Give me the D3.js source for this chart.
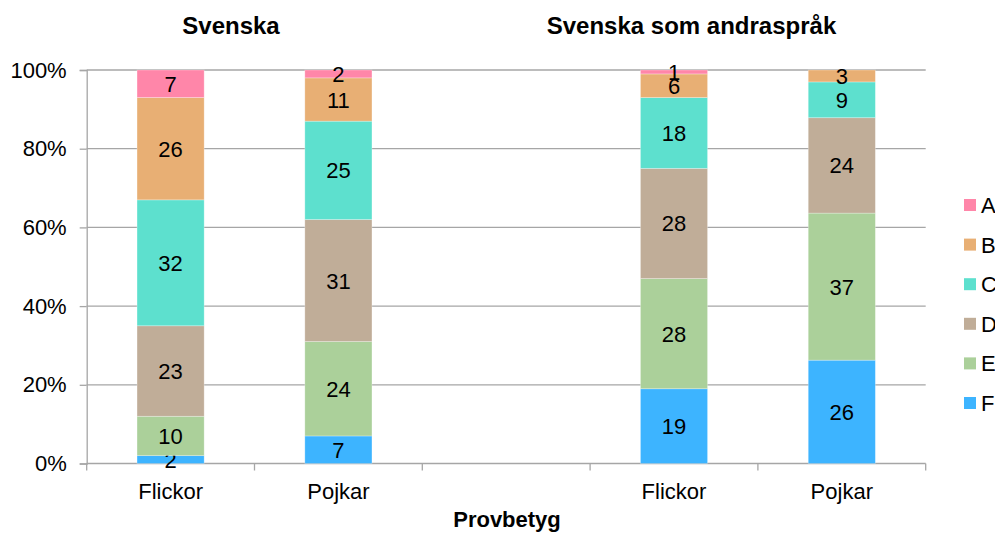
<!DOCTYPE html>
<html>
<head>
<meta charset="utf-8">
<script src="https://cdn.jsdelivr.net/npm/d3@7"></script>
<style>
  body { margin: 0; background: #fff; }
  text { font-family: "Liberation Sans", Arial, sans-serif; }
</style>
</head>
<body>
<div id="chart"></div>
<script>
// Data
var slots = ["s1", "s2", "gap", "s3", "s4"];
var slotLabels = ["Flickor", "Pojkar", "", "Flickor", "Pojkar"];
var grades = ["F", "E", "D", "C", "B", "A"];
var gradeColors = ["#3DB4FF", "#ABD09A", "#C0AD98", "#5DE0CE", "#E8AF74", "#FF86A9"];
var valF = [2, 7, 0, 19, 26];
var valE = [10, 24, 0, 28, 37];
var valD = [23, 31, 0, 28, 24];
var valC = [32, 25, 0, 18, 9];
var valB = [26, 11, 0, 6, 3];
var valA = [7, 2, 0, 1, 0];
var titles = ["Svenska", "Svenska som andraspråk"];
var yTicks = [0, 0.2, 0.4, 0.6, 0.8, 1];

//Define Margin
var width = 995, height = 536;
var plot = {left: 86.7, right: 925.7, top: 70, bottom: 463.5};

var svg = d3.select("#chart").append("svg")
    .attr("width", width)
    .attr("height", height);

// Build table for stack
var series = {F: valF, E: valE, D: valD, C: valC, B: valB, A: valA};
var table = slots.map(function(s, i) {
    var row = {slot: s};
    grades.forEach(function(g) { row[g] = series[g][i]; });
    return row;
}).filter(function(r) { return r.slot != "gap"; });

var stack = d3.stack().keys(grades).offset(d3.stackOffsetExpand);
var stacked = stack(table);

//Define Scales
var xScale = d3.scaleBand()
    .domain(slots)
    .range([plot.left, plot.right])
    .paddingInner(0.6)
    .paddingOuter(0.3);

var yScale = d3.scaleLinear()
    .domain([0, 1])
    .range([plot.bottom, plot.top]);

var color = d3.scaleOrdinal().domain(grades).range(gradeColors);

// gridlines
svg.append("g")
    .selectAll("line")
    .data(yTicks.slice(1))
    .enter().append("line")
    .attr("x1", plot.left).attr("x2", plot.right)
    .attr("y1", function(d) { return yScale(d); })
    .attr("y2", function(d) { return yScale(d); })
    .attr("stroke", "#a6a6a6")
    .attr("stroke-width", 1.3);

// y axis
var yAxis = d3.axisLeft(yScale)
    .tickValues(yTicks)
    .tickFormat(d3.format(".0%"))
    .tickSize(7)
    .tickPadding(13);

svg.append("g")
    .attr("transform", "translate(" + plot.left + ",0)")
    .call(yAxis)
    .call(function(g) {
        g.select(".domain").attr("stroke", "#a6a6a6").attr("stroke-width", 1.3);
        g.selectAll(".tick line").attr("stroke", "#a6a6a6").attr("stroke-width", 1.3);
        g.selectAll(".tick text").attr("font-size", "22px").attr("fill", "#000")
            .style("font-family", "'Liberation Sans', Arial, sans-serif");
    });

// x axis (ticks between slots)
var step = xScale.step();
var xBounds = d3.range(slots.length + 1).map(function(i) { return plot.left + i * step; });
var xg = svg.append("g");
xg.append("line")
    .attr("x1", plot.left).attr("x2", plot.right)
    .attr("y1", plot.bottom).attr("y2", plot.bottom)
    .attr("stroke", "#a6a6a6").attr("stroke-width", 1.3);
xg.selectAll(".xt")
    .data(xBounds)
    .enter().append("line")
    .attr("x1", function(d) { return d; }).attr("x2", function(d) { return d; })
    .attr("y1", plot.bottom).attr("y2", plot.bottom + 7)
    .attr("stroke", "#a6a6a6").attr("stroke-width", 1.3);
xg.selectAll(".xl")
    .data(slots)
    .enter().append("text")
    .attr("x", function(d) { return xScale(d) + xScale.bandwidth() / 2; })
    .attr("y", 499)
    .attr("text-anchor", "middle")
    .attr("font-size", "22px")
    .text(function(d, i) { return slotLabels[i]; });

// bars
var layers = svg.append("g").selectAll("g")
    .data(stacked)
    .enter().append("g")
    .attr("fill", function(d) { return color(d.key); });

layers.selectAll("rect")
    .data(function(d) { return d; })
    .enter().append("rect")
    .attr("x", function(d) { return xScale(d.data.slot); })
    .attr("width", xScale.bandwidth())
    .attr("y", function(d) { return yScale(d[1]); })
    .attr("height", function(d) { return yScale(d[0]) - yScale(d[1]); })
    .attr("stroke", "rgba(255,255,255,0.35)")
    .attr("stroke-width", 0.8);

// value labels
layers.selectAll("text")
    .data(function(d) { return d.map(function(p) { p.key = d.key; return p; }); })
    .enter().filter(function(d) { return d.data[d.key] > 0; })
    .append("text")
    .attr("x", function(d) { return xScale(d.data.slot) + xScale.bandwidth() / 2; })
    .attr("y", function(d) { return yScale((d[0] + d[1]) / 2) + 8; })
    .attr("text-anchor", "middle")
    .attr("font-size", "22px")
    .attr("fill", "#000")
    .text(function(d) { return d.data[d.key]; });

// titles
svg.append("text")
    .attr("x", 231).attr("y", 34)
    .attr("text-anchor", "middle")
    .attr("font-size", "24px").attr("font-weight", "bold")
    .text(titles[0]);
svg.append("text")
    .attr("x", 691.5).attr("y", 34)
    .attr("text-anchor", "middle")
    .attr("font-size", "24px").attr("font-weight", "bold")
    .text(titles[1]);

// x axis title
svg.append("text")
    .attr("x", 507).attr("y", 527)
    .attr("text-anchor", "middle")
    .attr("font-size", "22px").attr("font-weight", "bold")
    .text("Provbetyg");

// legend
var legend = svg.append("g").selectAll("g")
    .data(grades.slice().reverse())
    .enter().append("g")
    .attr("transform", function(d, i) { return "translate(964," + (199 + i * 39.6) + ")"; });
legend.append("rect")
    .attr("width", 12).attr("height", 12)
    .attr("fill", function(d) { return color(d); });
legend.append("text")
    .attr("x", 17).attr("y", 14)
    .attr("font-size", "22px")
    .text(function(d) { return d; });
</script>
</body>
</html>
